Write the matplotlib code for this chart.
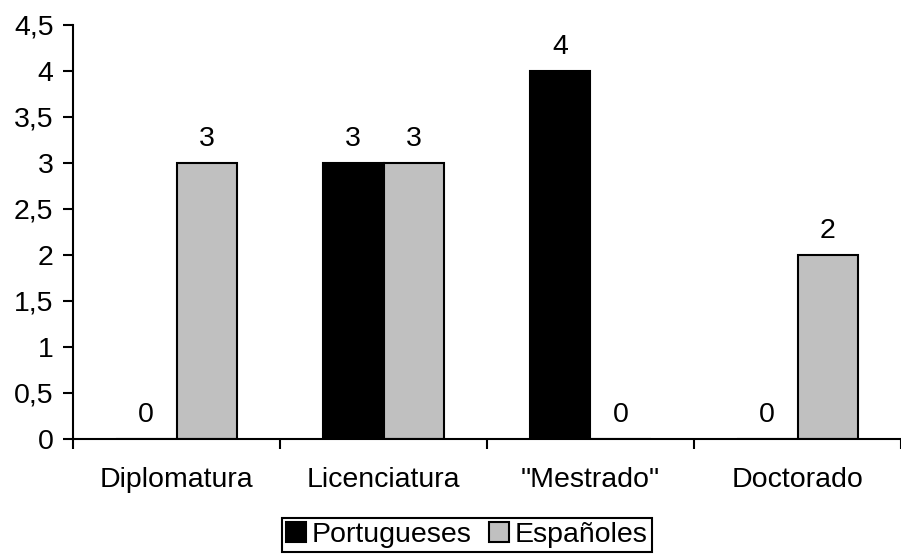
import numpy as np
import matplotlib.pyplot as plt

categories = ['Diplomatura', 'Licenciatura', '"Mestrado"', 'Doctorado']
portugueses = [0, 3, 4, 0]
espanoles = [3, 3, 0, 2]
yticks = [0, 0.5, 1, 1.5, 2, 2.5, 3, 3.5, 4, 4.5]

plt.rcParams['font.family'] = ['Liberation Sans', 'DejaVu Sans']
fs = 20.5

fig = plt.figure(figsize=(9.01, 5.57), dpi=100)
ax = fig.add_axes([73 / 901, 1 - 439 / 557, 1 - 73 / 901, (439 - 25) / 557])

x = np.arange(len(categories))
w = 0.293
b1 = ax.bar(x - w / 2, portugueses, w, color='black', edgecolor='black', linewidth=1.5, label='Portugueses')
b2 = ax.bar(x + w / 2, espanoles, w, color='#C0C0C0', edgecolor='black', linewidth=1.5, label='Españoles')

for bars, vals in ((b1, portugueses), (b2, espanoles)):
    for r, v in zip(bars, vals):
        ax.annotate(str(v), (r.get_x() + r.get_width() / 2, v), xytext=(0, 8),
                    textcoords='offset points', ha='center', va='bottom', fontsize=fs)

ax.set_xlim(-0.5, 3.48)
ax.set_ylim(0, 4.5)
ax.set_yticks(yticks)
ax.set_yticklabels([('%g' % t).replace('.', ',') for t in yticks])
ax.set_xticks(x)
ax.set_xticklabels(categories)
ax.set_xticks(np.arange(-0.5, 4, 1), minor=True)
ax.tick_params(axis='x', which='major', length=0, pad=20, labelsize=fs)
ax.tick_params(axis='x', which='minor', length=7, width=1.5, direction='out')
ax.tick_params(axis='y', length=7, width=1.5, pad=7, labelsize=fs)

for s in ('top', 'right'):
    ax.spines[s].set_visible(False)
for s in ('left', 'bottom'):
    ax.spines[s].set_linewidth(1.5)

leg = fig.legend(loc='center', bbox_to_anchor=(0.518, 0.0395), ncol=2, fontsize=fs,
                 frameon=True, fancybox=False, framealpha=1, edgecolor='black',
                 handlelength=0.7, handleheight=0.7, handletextpad=0.2,
                 columnspacing=0.6, borderpad=0.15, borderaxespad=0)
leg.get_frame().set_linewidth(1.5)

fig.savefig('out.png', dpi=100)
